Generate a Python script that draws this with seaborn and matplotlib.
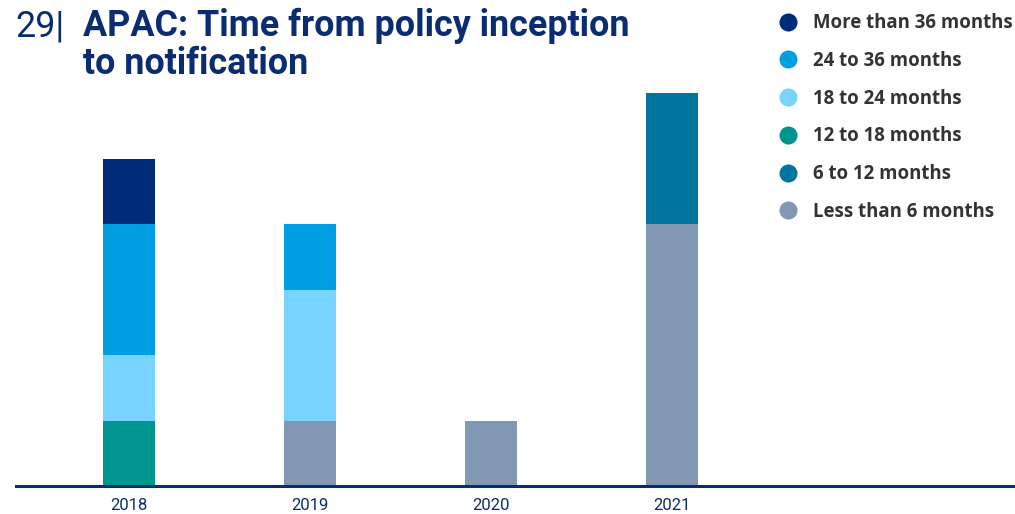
import matplotlib
matplotlib.use("Agg")
import matplotlib.pyplot as plt
from matplotlib.lines import Line2D
import numpy as np
import pandas as pd
import seaborn as sns

# Number of notifications by time from policy inception, per year
years = ["2018", "2019", "2020", "2021"]
less_than_6 = [0, 1, 1, 4]
m6_to_12 = [0, 0, 0, 2]
m12_to_18 = [1, 0, 0, 0]
m18_to_24 = [1, 2, 0, 0]
m24_to_36 = [2, 1, 0, 0]
more_than_36 = [1, 0, 0, 0]

# Stack order, bottom to top
bands = [
    ("Less than 6 months", less_than_6, "#8297b4"),
    ("6 to 12 months", m6_to_12, "#00769f"),
    ("12 to 18 months", m12_to_18, "#00968f"),
    ("18 to 24 months", m18_to_24, "#78d3ff"),
    ("24 to 36 months", m24_to_36, "#009fe3"),
    ("More than 36 months", more_than_36, "#002b78"),
]

NAVY = "#0a2d72"

sns.set_theme(style="white")
plt.rcParams["font.family"] = ["Roboto", "DejaVu Sans"]

fig = plt.figure(figsize=(10.15, 5.14), dpi=100)
ax = fig.add_axes([16 / 1015, 28 / 514, 999 / 1015, 486 / 514])

# Cumulative totals drawn tallest first so each band stays visible
cum = np.cumsum(np.array([b[1] for b in bands]), axis=0)
for (name, _, color), totals in reversed(list(zip(bands, cum))):
    df = pd.DataFrame({"year": years, "value": totals})
    sns.barplot(data=df, x="year", y="value", color=color, width=0.287,
                saturation=1, ax=ax, linewidth=0)

ax.set_xlim(-0.624, 4.895)
ax.set_ylim(0, 7.42)
ax.set_xlabel("")
ax.set_ylabel("")
ax.set_yticks([])
for side in ["top", "right", "left"]:
    ax.spines[side].set_visible(False)
ax.spines["bottom"].set_color(NAVY)
ax.spines["bottom"].set_linewidth(2.2)
ax.tick_params(axis="x", length=0, pad=9, labelsize=12, labelcolor=NAVY)

# Title
fig.text(15 / 1015, 1 - 36 / 514, "29|", fontsize=25.8, color=NAVY,
         fontweight="normal", va="baseline")
fig.text(83 / 1015, 1 - 36 / 514, "APAC: Time from policy inception",
         fontsize=25.8, color=NAVY, fontweight="bold", va="baseline")
fig.text(83 / 1015, 1 - 74 / 514, "to notification",
         fontsize=25.8, color=NAVY, fontweight="bold", va="baseline")

# Legend, top band first
handles = [Line2D([], [], marker="o", linestyle="none", markersize=13,
                  markerfacecolor=c, markeredgewidth=0)
           for _, _, c in reversed(bands)]
labels = [n for n, _, _ in reversed(bands)]
leg = fig.legend(handles, labels, loc="upper left",
                 bbox_to_anchor=(769 / 1015, 1 - 4 / 514),
                 frameon=False, handletextpad=0.88, handlelength=1.0,
                 labelspacing=0.95, borderpad=0,
                 prop={"family": ["Open Sans", "DejaVu Sans"],
                       "weight": "bold", "size": 13.4})
for t in leg.get_texts():
    t.set_color("#333333")

fig.savefig("out.png", dpi=100)
